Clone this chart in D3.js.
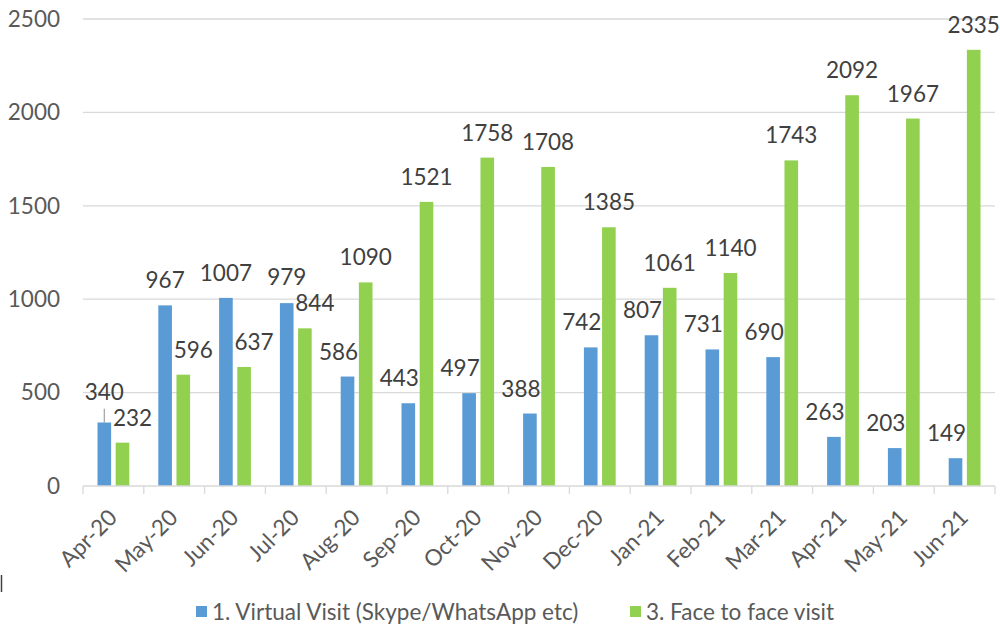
<!DOCTYPE html>
<html>
<head>
<meta charset="utf-8">
<script src="https://cdn.jsdelivr.net/npm/d3@7"></script>
<style>
  body { margin: 0; background: #fff; }
  svg { display: block; font-family: Lato, "Open Sans", sans-serif; }
</style>
</head>
<body>
<div id="chart"></div>
<script>
"use strict";

// Monthly visit counts, Apr-20 .. Jun-21
var months = ['Apr-20', 'May-20', 'Jun-20', 'Jul-20', 'Aug-20', 'Sep-20', 'Oct-20',
  'Nov-20', 'Dec-20', 'Jan-21', 'Feb-21', 'Mar-21', 'Apr-21', 'May-21', 'Jun-21'];
var virtualVisits = [340, 967, 1007, 979, 586, 443, 497, 388, 742, 807, 731, 690, 263, 203, 149];
var faceVisits = [232, 596, 637, 844, 1090, 1521, 1758, 1708, 1385, 1061, 1140, 1743, 2092, 1967, 2335];
var seriesNames = ['1. Virtual Visit (Skype/WhatsApp etc)', '3. Face to face visit'];
var yTicks = [0, 500, 1000, 1500, 2000, 2500];

var colors = ['#5B9BD5', '#92D050'];
var width = 1000, height = 629;
var plotLeft = 83, plotRight = 995, plotTop = 19, plotBottom = 486;
var fontSize = 22.5;

var svg = d3.select('#chart')
  .append('svg')
    .attr('width', width)
    .attr('height', height);

var x = d3.scaleBand()
  .domain(months)
  .range([plotLeft, plotRight]);

var inner = d3.scaleBand()
  .domain([0, 1])
  .range([14.5, 46.3])
  .paddingInner(0.25);

var y = d3.scaleLinear()
  .domain([0, 2500])
  .range([plotBottom, plotTop]);

// gridlines
svg.append('g')
  .selectAll('line')
  .data(yTicks.slice(1))
  .enter()
  .append('line')
    .attr('x1', plotLeft)
    .attr('x2', plotRight)
    .attr('y1', function (d) { return y(d); })
    .attr('y2', function (d) { return y(d); })
    .attr('stroke', '#d9d9d9')
    .attr('stroke-width', 1.3);

// y axis labels
var yAxis = svg.append('g')
  .attr('transform', 'translate(60,0)')
  .call(d3.axisLeft(y).tickValues(yTicks).tickFormat(d3.format('d')).tickSize(0).tickPadding(0));
yAxis.select('.domain').remove();
yAxis.selectAll('text')
  .attr('fill', '#595959')
  .attr('font-size', fontSize)
  .attr('font-family', 'Lato, "Open Sans", sans-serif');

// bars
var series = [virtualVisits, faceVisits];
series.forEach(function (values, s) {
  svg.append('g')
    .selectAll('rect')
    .data(values)
    .enter()
    .append('rect')
      .attr('x', function (d, i) { return x(months[i]) + inner(s); })
      .attr('y', function (d) { return y(d); })
      .attr('width', inner.bandwidth())
      .attr('height', function (d) { return plotBottom - y(d); })
      .attr('fill', colors[s]);
});

// x axis line and category boundary ticks
svg.append('line')
  .attr('x1', plotLeft).attr('x2', plotRight)
  .attr('y1', plotBottom).attr('y2', plotBottom)
  .attr('stroke', '#d9d9d9')
  .attr('stroke-width', 1.3);

var boundaries = months.map(function (m) { return x(m); }).concat([plotRight]);
svg.append('g')
  .selectAll('line')
  .data(boundaries)
  .enter()
  .append('line')
    .attr('x1', function (d) { return d; })
    .attr('x2', function (d) { return d; })
    .attr('y1', plotBottom)
    .attr('y2', plotBottom + 8)
    .attr('stroke', '#d9d9d9')
    .attr('stroke-width', 1.3);

var xAxis = svg.append('g')
  .attr('transform', 'translate(0,' + plotBottom + ')')
  .call(d3.axisBottom(x).tickSize(0).tickPadding(0));
xAxis.select('.domain').remove();
xAxis.selectAll('text')
  .attr('fill', '#595959')
  .attr('font-size', fontSize)
  .attr('font-family', 'Lato, "Open Sans", sans-serif')
  .attr('text-anchor', 'end')
  .attr('dy', null)
  .attr('transform', 'translate(5,33) rotate(-45)');

// data labels: blue labels on later months and green labels on early months
// were nudged sideways in the original, so do the same
var labels = [];
months.forEach(function (m, i) {
  var blue = {
    value: virtualVisits[i],
    barX: x(m) + inner(0) + inner.bandwidth() / 2,
    barTop: y(virtualVisits[i])
  };
  blue.cx = blue.barX + (i >= 4 ? -9 : 0);
  blue.cy = blue.barTop - 25;

  var green = {
    value: faceVisits[i],
    barX: x(m) + inner(1) + inner.bandwidth() / 2,
    barTop: y(faceVisits[i])
  };
  green.cx = green.barX + (i < 4 ? 10 : 0);
  green.cy = green.barTop - 25;

  // push the blue label up when it sits on top of the green one
  var w = 36;
  if (Math.abs(blue.cx - green.cx) < w && green.cy - blue.cy < 26 && green.cy - blue.cy > -26) {
    var lift = 26 - (green.cy - blue.cy);
    blue.cy -= lift;
    if (lift > 2) blue.leader = true;
  }
  labels.push(blue, green);
});

svg.append('g')
  .selectAll('line')
  .data(labels.filter(function (d) { return d.leader; }))
  .enter()
  .append('line')
    .attr('x1', function (d) { return d.barX; })
    .attr('x2', function (d) { return d.barX; })
    .attr('y1', function (d) { return d.cy + 17; })
    .attr('y2', function (d) { return d.barTop; })
    .attr('stroke', '#a6a6a6')
    .attr('stroke-width', 1.3);

svg.append('g')
  .selectAll('text')
  .data(labels)
  .enter()
  .append('text')
    .attr('x', function (d) { return d.cx; })
    .attr('y', function (d) { return d.cy + 8; })
    .attr('text-anchor', 'middle')
    .attr('font-size', fontSize)
    .attr('fill', '#404040')
    .text(function (d) { return d.value; });

// legend
var legend = svg.append('g').attr('transform', 'translate(0,612)');
var legendX = [196, 630];
seriesNames.forEach(function (name, s) {
  legend.append('rect')
    .attr('x', legendX[s])
    .attr('y', -6)
    .attr('width', 11)
    .attr('height', 11)
    .attr('fill', colors[s]);
  legend.append('text')
    .attr('x', legendX[s] + 16)
    .attr('y', 7.5)
    .attr('font-size', fontSize)
    .attr('fill', '#595959')
    .text(name);
});

// small stray mark on the left edge of the original picture
svg.append('line')
  .attr('x1', 1.5).attr('x2', 1.5)
  .attr('y1', 575).attr('y2', 592)
  .attr('stroke', '#404040')
  .attr('stroke-width', 1.5);
</script>
</body>
</html>
